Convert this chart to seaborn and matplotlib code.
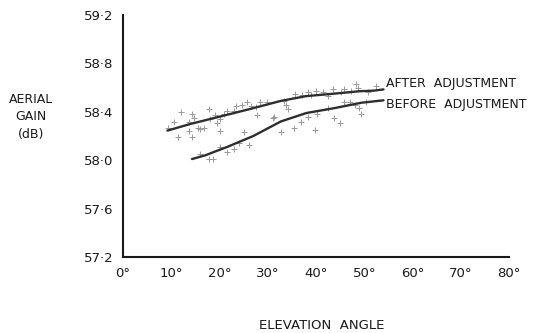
import numpy as np
import pandas as pd
import matplotlib
matplotlib.use("Agg")
import matplotlib.pyplot as plt
import seaborn as sns

# --- DATA ---
after_line_x = [9.2, 14.0, 20.0, 26.0, 32.7, 38.0, 43.75, 49.0, 52.0, 54.0]
after_line_y = [58.245, 58.30, 58.36, 58.42, 58.49, 58.53, 58.55, 58.57, 58.575, 58.585]

before_line_x = [14.3, 17.0, 21.6, 27.0, 32.7, 38.0, 43.75, 49.4, 54.0]
before_line_y = [58.01, 58.04, 58.11, 58.20, 58.32, 58.39, 58.43, 58.475, 58.495]

pts_x = [9.4, 10.5, 12.0, 11.4, 13.6, 14.2, 13.6, 14.2, 14.8, 15.5, 16.0, 16.7,
         17.8, 18.1, 19.0, 19.5, 20.2, 20.9, 20.1, 21.6, 23.0, 23.5, 24.7, 25.6,
         26.6, 27.5, 28.5, 29.9, 27.7, 31.3, 33.3, 33.8, 34.1, 35.6, 37.2, 38.3,
         39.0, 40.0, 41.4, 42.4, 43.5, 45.1, 45.8, 47.3, 48.3, 48.8, 50.8, 52.5,
         16.0, 17.8, 18.7, 20.2, 21.5, 23.0, 24.0, 25.1, 26.1, 31.0, 32.7, 35.5,
         36.9, 38.3, 39.8, 40.3, 42.4, 43.8, 44.9, 45.9, 47.0, 48.0, 49.0, 50.4, 49.4]
pts_y = [58.27, 58.32, 58.40, 58.19, 58.32, 58.38, 58.24, 58.19, 58.35, 58.27, 58.26, 58.27,
         58.42, 58.34, 58.37, 58.31, 58.34, 58.38, 58.24, 58.41, 58.41, 58.45, 58.46, 58.48,
         58.45, 58.44, 58.48, 58.48, 58.37, 58.36, 58.49, 58.46, 58.42, 58.55, 58.54, 58.56,
         58.54, 58.57, 58.56, 58.53, 58.59, 58.56, 58.59, 58.57, 58.63, 58.60, 58.56, 58.61,
         58.05, 58.01, 58.01, 58.11, 58.07, 58.09, 58.14, 58.23, 58.13, 58.35, 58.23, 58.27,
         58.32, 58.36, 58.25, 58.38, 58.43, 58.35, 58.31, 58.48, 58.48, 58.46, 58.43, 58.48, 58.38]

x_ticks = [0, 10, 20, 30, 40, 50, 60, 70, 80]
y_ticks = [57.2, 57.6, 58.0, 58.4, 58.8, 59.2]

sns.set_style("white")
plt.rcParams['font.family'] = ['DejaVu Sans']
INK = "#1a1a1a"

fig = plt.figure(figsize=(5.33, 3.33), dpi=100)
ax = fig.add_axes([0.2308, 0.228, 0.724, 0.727])

pts = pd.DataFrame({"x": pts_x, "y": pts_y})
sns.scatterplot(data=pts, x="x", y="y", marker="+", s=14, color="#999999",
                linewidth=0.7, ax=ax)

after = pd.DataFrame({"x": after_line_x, "y": after_line_y})
before = pd.DataFrame({"x": before_line_x, "y": before_line_y})
sns.lineplot(data=after, x="x", y="y", color="#2e2e2e", linewidth=1.7, ax=ax)
sns.lineplot(data=before, x="x", y="y", color="#2e2e2e", linewidth=1.7, ax=ax)

ax.text(54.6, 58.63, "AFTER  ADJUSTMENT", fontsize=9, color=INK, va="center")
ax.text(54.6, 58.46, "BEFORE  ADJUSTMENT", fontsize=9, color=INK, va="center")

ax.set_xlim(0, 80)
ax.set_ylim(57.2, 59.2)
ax.set_xticks(x_ticks)
ax.set_xticklabels([f"{t}°" for t in x_ticks], fontsize=9.5, color=INK)
ax.set_yticks(y_ticks)
ax.set_yticklabels([f"{t:.1f}".replace(".", "·") for t in y_ticks], fontsize=9.5, color=INK)
ax.tick_params(axis="x", direction="in", length=5, width=1.2, color=INK, pad=7)
ax.tick_params(axis="y", direction="inout", length=10, width=1.2, color=INK, pad=2)

sns.despine(ax=ax)
for side in ("left", "bottom"):
    ax.spines[side].set_color(INK)
    ax.spines[side].set_linewidth(1.5)

ax.set_xlabel("")
ax.set_ylabel("")
fig.text(0.058, 0.649, "AERIAL\nGAIN\n(dB)", fontsize=9, color=INK,
         ha="center", va="center", linespacing=1.45)
fig.text(0.604, 0.022, "ELEVATION  ANGLE", fontsize=9.5, color=INK, ha="center", va="center")

fig.savefig("out.png", dpi=100, facecolor="white")
